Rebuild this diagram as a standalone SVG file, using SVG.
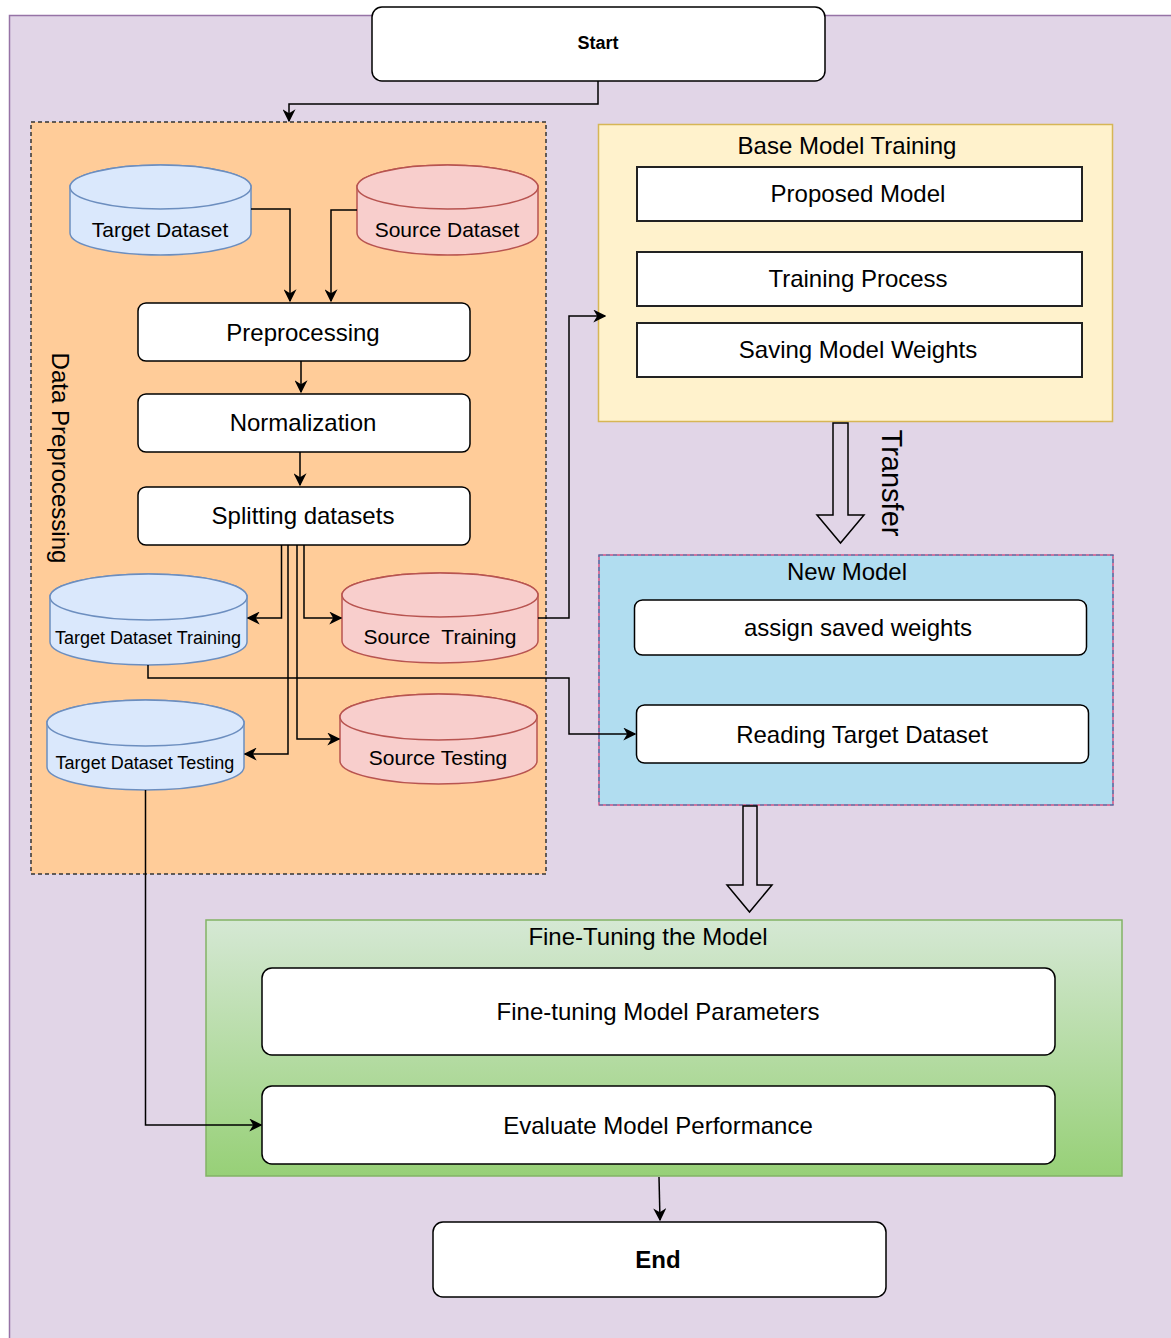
<svg xmlns="http://www.w3.org/2000/svg" width="1171" height="1338" viewBox="0 0 1171 1338">
<style>
  text { font-family: "Liberation Sans", Arial, sans-serif; fill: #000; text-anchor: middle; }
  .t22 { font-size: 24px; }
  .t20 { font-size: 21px; }
  .t17 { font-size: 18px; }
  .box { fill: #fff; stroke: #000; stroke-width: 1.5; }
  .sq { fill: #fff; stroke: #222; stroke-width: 2; }
  .blue { fill: #dae8fc; stroke: #6c8ebf; stroke-width: 1.5; }
  .red { fill: #f8cecc; stroke: #b85450; stroke-width: 1.5; }
  .conn { fill: none; stroke: #000; stroke-width: 1.5; }
  .block { fill: none; stroke: #000; stroke-width: 1.5; }
</style>
<defs>
  <marker id="arr" viewBox="0 0 10 10" refX="9" refY="5" markerWidth="13" markerHeight="13" markerUnits="userSpaceOnUse" orient="auto">
    <path d="M0,0 L10,5 L0,10 L3,5 z" fill="#000"/>
  </marker>
  <linearGradient id="green" x1="0" y1="0" x2="0" y2="1">
    <stop offset="0" stop-color="#d5e8d4"/>
    <stop offset="1" stop-color="#97d077"/>
  </linearGradient>
</defs>

<g id="background">
  <rect x="9.5" y="15.5" width="1175" height="1335" fill="#e1d5e7" stroke="#9673a6" stroke-width="1.5"/>
</g>

<g id="data-preprocessing">
  <rect x="31" y="122" width="515" height="752" fill="#ffcc99" stroke="#333" stroke-width="1.5" stroke-dasharray="4 3"/>
  <text class="t22" transform="translate(52,458) rotate(90)">Data Preprocessing</text>
</g>

<g id="base-model-training">
  <rect x="598.5" y="124.5" width="514" height="297" fill="#fff2cc" stroke="#d6b656" stroke-width="1.5"/>
  <text class="t22" x="847" y="154">Base Model Training</text>
</g>

<g id="new-model">
  <rect x="599" y="555" width="514" height="250" fill="#b1ddf0" stroke="#d6336c" stroke-width="1.2"/>
  <rect x="599" y="555" width="514" height="250" fill="none" stroke="#2f84b8" stroke-width="1.2" stroke-dasharray="4 3"/>
  <text class="t22" x="847" y="580">New Model</text>
</g>

<g id="fine-tuning">
  <rect x="206" y="920" width="916" height="256" fill="url(#green)" stroke="#82b366" stroke-width="1.5"/>
  <text class="t22" x="648" y="945">Fine-Tuning the Model</text>
</g>

<g id="start">
  <rect class="box" x="372" y="7" width="453" height="74" rx="10"/>
  <text x="598" y="49" font-size="18" font-weight="bold">Start</text>
</g>

<g id="target-dataset">
  <path class="blue" d="M70,187 L70,233 A90.5,22 0 0 0 251,233 L251,187 A90.5,22 0 0 0 70,187 Z"/>
  <ellipse class="blue" cx="160.5" cy="187" rx="90.5" ry="22"/>
  <text class="t20" x="160" y="237">Target Dataset</text>
</g>

<g id="source-dataset">
  <path class="red" d="M357,187 L357,233 A90.5,22 0 0 0 538,233 L538,187 A90.5,22 0 0 0 357,187 Z"/>
  <ellipse class="red" cx="447.5" cy="187" rx="90.5" ry="22"/>
  <text class="t20" x="447" y="237">Source Dataset</text>
</g>

<g id="preprocessing">
  <rect class="box" x="138" y="303" width="332" height="58" rx="8"/>
  <text class="t22" x="303" y="341">Preprocessing</text>
</g>

<g id="normalization">
  <rect class="box" x="138" y="394" width="332" height="58" rx="8"/>
  <text class="t22" x="303" y="431">Normalization</text>
</g>

<g id="splitting">
  <rect class="box" x="138" y="487" width="332" height="58" rx="8"/>
  <text class="t22" x="303" y="524">Splitting datasets</text>
</g>

<g id="target-training">
  <path class="blue" d="M50,597 L50,642 A98.5,23 0 0 0 247,642 L247,597 A98.5,23 0 0 0 50,597 Z"/>
  <ellipse class="blue" cx="148.5" cy="597" rx="98.5" ry="23"/>
  <text class="t17" x="148" y="644">Target Dataset Training</text>
</g>

<g id="source-training">
  <path class="red" d="M342,595 L342,641 A98,22 0 0 0 538,641 L538,595 A98,22 0 0 0 342,595 Z"/>
  <ellipse class="red" cx="440" cy="595" rx="98" ry="22"/>
  <text class="t20" x="440" y="644" xml:space="preserve">Source  Training</text>
</g>

<g id="target-testing">
  <path class="blue" d="M47,723 L47,767 A98.5,23 0 0 0 244,767 L244,723 A98.5,23 0 0 0 47,723 Z"/>
  <ellipse class="blue" cx="145.5" cy="723" rx="98.5" ry="23"/>
  <text class="t17" x="145" y="769">Target Dataset Testing</text>
</g>

<g id="source-testing">
  <path class="red" d="M340,717 L340,761 A98.5,23 0 0 0 537,761 L537,717 A98.5,23 0 0 0 340,717 Z"/>
  <ellipse class="red" cx="438.5" cy="717" rx="98.5" ry="23"/>
  <text class="t20" x="438" y="765">Source Testing</text>
</g>

<g id="proposed-model">
  <rect class="sq" x="637" y="167" width="445" height="54"/>
  <text class="t22" x="858" y="202">Proposed Model</text>
</g>

<g id="training-process">
  <rect class="sq" x="637" y="252" width="445" height="54"/>
  <text class="t22" x="858" y="287">Training Process</text>
</g>

<g id="saving-weights">
  <rect class="sq" x="637" y="323" width="445" height="54"/>
  <text class="t22" x="858" y="358">Saving Model Weights</text>
</g>

<g id="assign-weights">
  <rect class="box" x="634.5" y="600" width="452" height="55" rx="8"/>
  <text class="t22" x="858" y="636">assign saved weights</text>
</g>

<g id="reading-target">
  <rect class="box" x="636.5" y="705" width="452" height="58" rx="8"/>
  <text class="t22" x="862" y="743">Reading Target Dataset</text>
</g>

<g id="fine-tuning-params">
  <rect class="box" x="262" y="968" width="793" height="87" rx="10"/>
  <text class="t22" x="658" y="1020">Fine-tuning Model Parameters</text>
</g>

<g id="evaluate">
  <rect class="box" x="262" y="1086" width="793" height="78" rx="10"/>
  <text class="t22" x="658" y="1134">Evaluate Model Performance</text>
</g>

<g id="end">
  <rect class="box" x="433" y="1222" width="453" height="75" rx="10"/>
  <text x="658" y="1268" font-size="24" font-weight="bold">End</text>
</g>

<g id="connectors">
  <path class="conn" d="M598,81 L598,104 L289,104 L289,121" marker-end="url(#arr)"/>
  <path class="conn" d="M251,209 L290,209 L290,301" marker-end="url(#arr)"/>
  <path class="conn" d="M357,210 L331,210 L331,301" marker-end="url(#arr)"/>
  <path class="conn" d="M301,361 L301,392" marker-end="url(#arr)"/>
  <path class="conn" d="M300,452 L300,485" marker-end="url(#arr)"/>
  <path class="conn" d="M281.5,545 L281.5,618 L248,618" marker-end="url(#arr)"/>
  <path class="conn" d="M304,545 L304,618 L341,618" marker-end="url(#arr)"/>
  <path class="conn" d="M288,545 L288,754 L245,754" marker-end="url(#arr)"/>
  <path class="conn" d="M297,545 L297,739 L339,739" marker-end="url(#arr)"/>
  <path class="conn" d="M538,618 L569,618 L569,316 L605,316" marker-end="url(#arr)"/>
  <path class="conn" d="M148,665 L148,678 L569,678 L569,734 L635,734" marker-end="url(#arr)"/>
  <path class="conn" d="M145.5,790 L145.5,1125 L261,1125" marker-end="url(#arr)"/>
  <path class="conn" d="M659,1177 L660,1220" marker-end="url(#arr)"/>
  <path class="block" d="M833,423 L848,423 L848,515 L864,515 L840.5,543 L817,515 L833,515 Z"/>
  <text font-size="29" transform="translate(882,483) rotate(90)">Transfer</text>
  <path class="block" d="M743,806 L757,806 L757,885 L772,885 L749.5,912 L727,885 L743,885 Z"/>
</g>
</svg>
